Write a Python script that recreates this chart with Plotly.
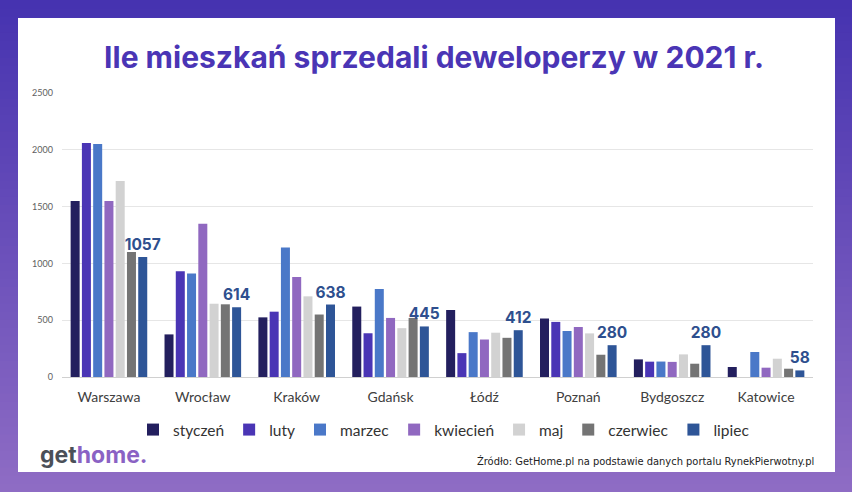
import plotly.graph_objects as go

cities = ["Warszawa", "Wrocław", "Kraków", "Gdańsk", "Łódź", "Poznań", "Bydgoszcz", "Katowice"]
months = ["styczeń", "luty", "marzec", "kwiecień", "maj", "czerwiec", "lipiec"]

styczen = [1550, 375, 525, 620, 590, 515, 155, 88]
luty = [2060, 930, 575, 385, 210, 485, 135, None]
marzec = [2050, 910, 1140, 775, 395, 405, 136, 220]
kwiecien = [1550, 1350, 880, 520, 330, 440, 133, 82]
maj = [1725, 645, 710, 430, 390, 384, 199, 161]
czerwiec = [1100, 640, 550, 520, 345, 196, 117, 73]
lipiec = [1057, 614, 638, 445, 412, 280, 280, 58]

series = [styczen, luty, marzec, kwiecien, maj, czerwiec, lipiec]
colors = ["#231f5e", "#4a35b5", "#4a78c8", "#9068c0", "#d2d2d2", "#747474", "#2e5597"]

title_text = "Ile mieszkań sprzedali deweloperzy w 2021 r."
source_text = "Źródło: GetHome.pl na podstawie danych portalu RynekPierwotny.pl"
y_ticks = [0, 500, 1000, 1500, 2000, 2500]

fig = go.Figure()
for name, vals, col in zip(months, series, colors):
    kw = {}
    if name == "lipiec":
        kw = dict(text=vals, texttemplate="<b>%{y}</b>", textposition="outside", constraintext="none",
                  textfont=dict(family="Inter", size=15.5, color="#2e4f8e"), cliponaxis=False)
    fig.add_trace(go.Bar(x=cities, y=vals, name=name, marker=dict(color=col, line=dict(width=0)),
                         hoverinfo="skip", **kw))

W, H = 852, 492
pl, pr, pt, pb = 62, 39, 93, 115
pw, ph = W - pl - pr, H - pt - pb
def px_x(x):
    return (x - pl) / pw
def px_y(y):
    return (H - pb - y) / ph

shapes = []
n = 60
c0 = (70, 51, 176)
c1 = (142, 108, 196)
for i in range(n):
    t = i / (n - 1)
    c = tuple(round(c0[k] + (c1[k] - c0[k]) * t) for k in range(3))
    y0 = H * i / n
    y1 = H * (i + 1) / n + 1
    shapes.append(dict(type="rect", xref="paper", yref="paper", layer="below",
                       x0=px_x(0), x1=px_x(W), y0=px_y(y1), y1=px_y(y0), line=dict(width=0),
                       fillcolor="rgb(%d,%d,%d)" % c))
shapes.append(dict(type="rect", xref="paper", yref="paper", layer="below",
                   x0=px_x(18), x1=px_x(835), y0=px_y(472), y1=px_y(18),
                   line=dict(width=0), fillcolor="white"))

fig.update_layout(
    width=W, height=H,
    margin=dict(l=pl, r=pr, t=pt, b=pb, autoexpand=False),
    paper_bgcolor="#6a4fbd",
    plot_bgcolor="rgba(0,0,0,0)",
    barmode="group", bargap=0.16, bargroupgap=0.2,
    shapes=shapes,
    showlegend=True,
    legend=dict(orientation="h", xref="container", yref="container", x=444 / W, xanchor="center",
                y=1 - 430 / H, yanchor="middle",
                font=dict(family="Lato", size=15.5, color="#333333"),
                itemwidth=30, bgcolor="rgba(0,0,0,0)", traceorder="normal"),
    title=dict(text="<b>" + title_text + "</b>", x=434 / W, xanchor="center", y=1 - 57 / H, yanchor="middle",
               font=dict(family="Inter", size=30, color="#4a35b5")),
    xaxis=dict(tickfont=dict(family="Lato", size=14, color="#404040"), showgrid=False,
               showline=False, ticks="", fixedrange=True, automargin=False, ticklabelstandoff=10),
    yaxis=dict(range=[0, 2500], tickvals=y_ticks, showgrid=True, gridcolor="#e6e6e6", gridwidth=1,
               zeroline=True, zerolinecolor="#d0d0d0", zerolinewidth=1, automargin=False,
               ticklabelstandoff=8, fixedrange=True,
               tickfont=dict(family="Lato", size=9, color="#606060"), ticks="", showline=False),
    font=dict(family="Lato"),
    annotations=[
        dict(text="<b><span style='color:#4b5058'>get</span><span style='color:#8a62c4'>home.</span></b>",
             xref="paper", yref="paper", x=px_x(38), y=px_y(455), xanchor="left", yanchor="middle",
             showarrow=False, font=dict(family="Inter", size=23)),
        dict(text=source_text, xref="paper", yref="paper", x=px_x(816), y=px_y(461),
             xanchor="right", yanchor="middle", showarrow=False,
             font=dict(family="DejaVu Sans Condensed, Liberation Sans, sans-serif", size=11, color="#222222")),
    ],
)

fig.write_html("out.html", config={"displayModeBar": False},
               post_script="document.body.style.margin='0';document.body.style.overflow='hidden';")
